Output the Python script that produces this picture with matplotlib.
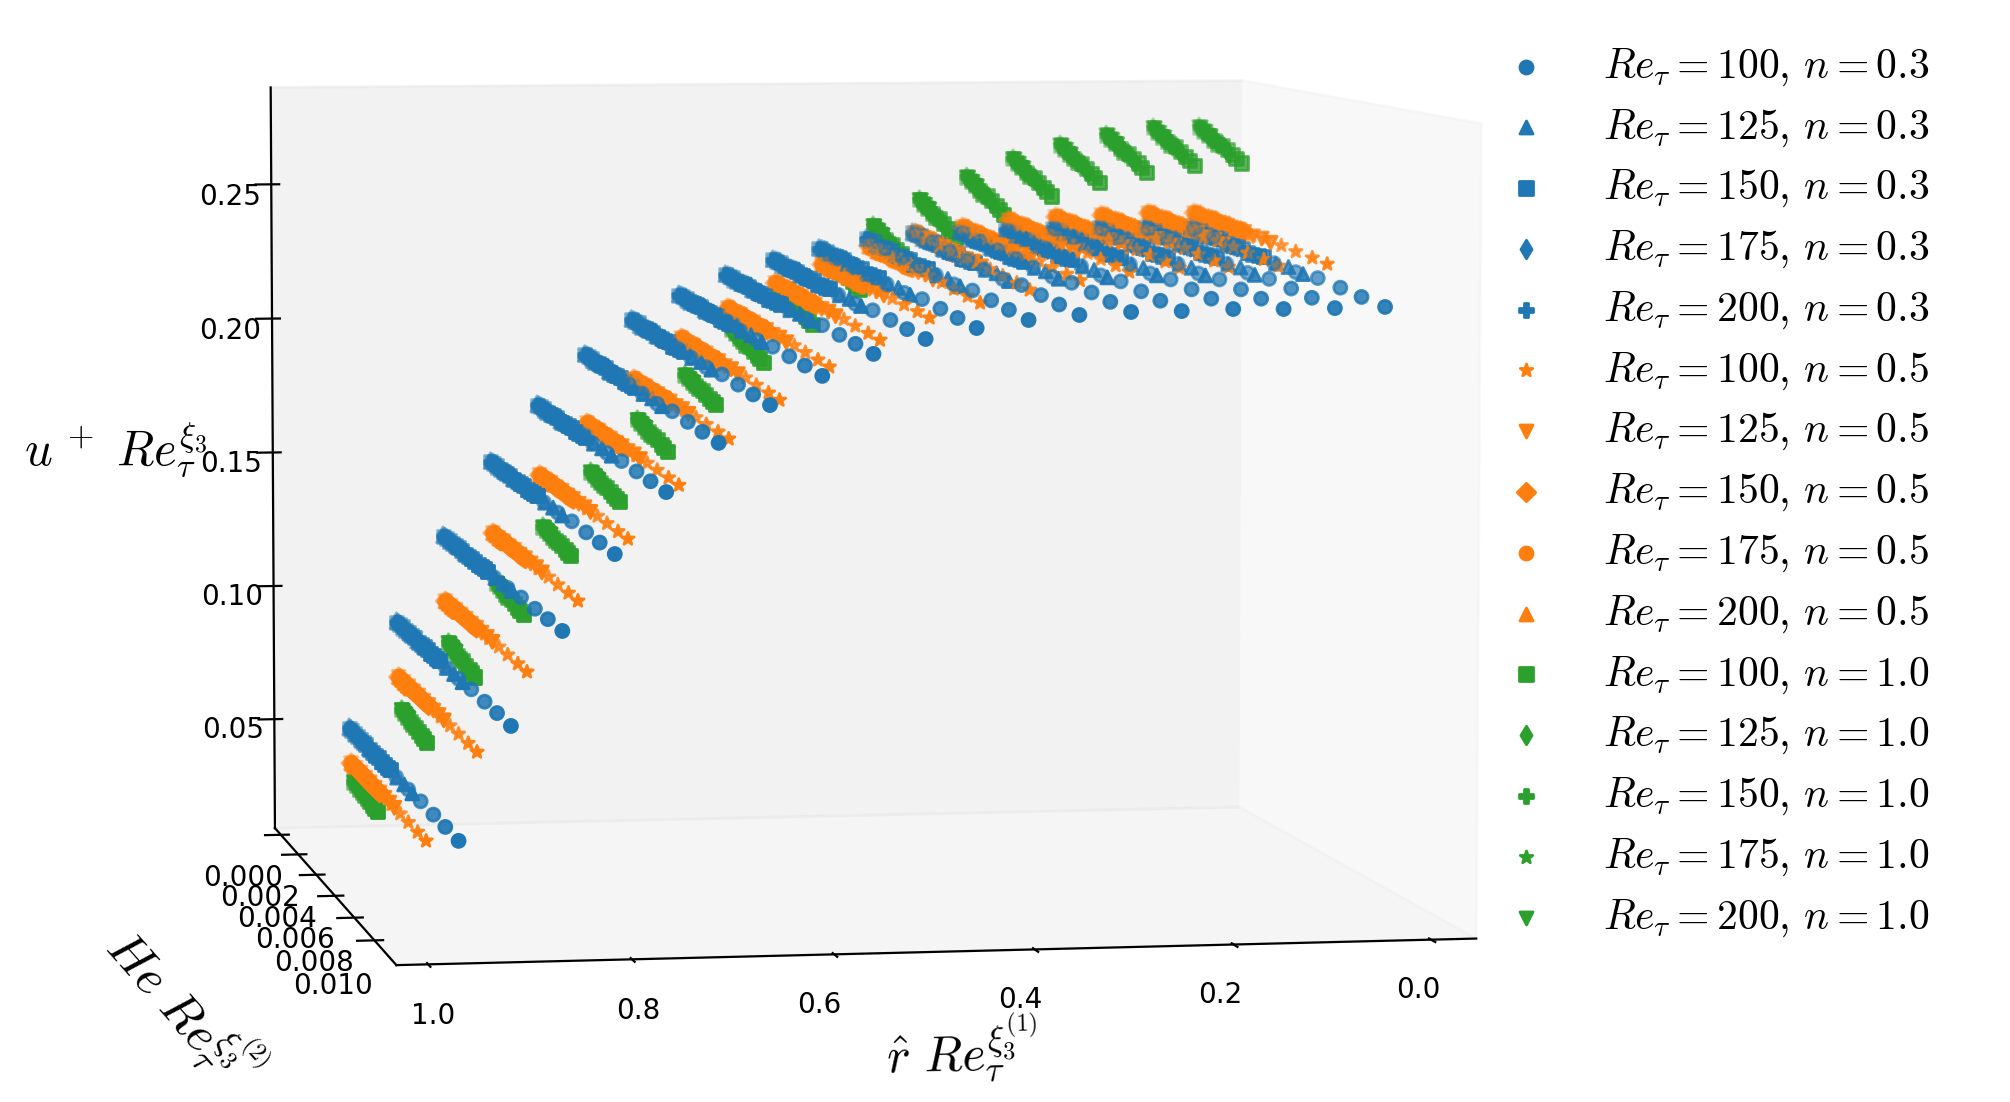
import numpy as np
import matplotlib
matplotlib.use("Agg")
import matplotlib.pyplot as plt

plt.rcParams['mathtext.fontset'] = 'cm'

r_vals = [0.961, 0.909, 0.858, 0.806, 0.755, 0.703, 0.652, 0.600, 0.549, 0.497,
          0.446, 0.394, 0.343, 0.291, 0.240, 0.188, 0.137, 0.085, 0.034]

# He values at which the u+ tables below were read, one list per n
he_stations = {0.3: [.0005, .00185, .0032, .00455, .0059, .00725, .0086, .00995, .0113],
               0.5: [.0007, .00165, .0026, .00355, .0045, .00545, .0064, .00735, .0083],
               1.0: [.0010, .0013, .0016, .0019, .00225, .00255, .0029, .0032, .0035]}

# one row per r value, one column per He station
u_n03 = [[.0501, .0498, .0494, .0491, .0487, .0483, .0479, .0476, .0472],
         [.0892, .0888, .0883, .0879, .0874, .0870, .0865, .0861, .0856],
         [.1209, .1205, .1200, .1196, .1191, .1187, .1182, .1178, .1173],
         [.1482, .1476, .1469, .1463, .1456, .1449, .1442, .1436, .1429],
         [.1691, .1684, .1677, .1670, .1663, .1656, .1649, .1642, .1635],
         [.1875, .1866, .1856, .1847, .1837, .1827, .1817, .1808, .1798],
         [.2003, .1993, .1983, .1973, .1963, .1953, .1943, .1933, .1923],
         [.2093, .2084, .2075, .2066, .2056, .2047, .2038, .2029, .2019],
         [.2166, .2157, .2147, .2138, .2129, .2120, .2110, .2101, .2091],
         [.2220, .2210, .2200, .2190, .2180, .2170, .2159, .2149, .2139],
         [.2260, .2250, .2239, .2228, .2217, .2207, .2196, .2185, .2174],
         [.2295, .2283, .2271, .2259, .2247, .2235, .2223, .2211, .2199],
         [.2315, .2303, .2290, .2278, .2265, .2252, .2239, .2227, .2214],
         [.2317, .2305, .2293, .2282, .2270, .2258, .2246, .2234, .2222],
         [.2323, .2311, .2298, .2286, .2273, .2261, .2248, .2236, .2223],
         [.2328, .2316, .2303, .2291, .2278, .2266, .2253, .2241, .2228],
         [.2327, .2315, .2302, .2290, .2277, .2264, .2251, .2239, .2226],
         [.2325, .2313, .2301, .2289, .2276, .2264, .2252, .2240, .2227],
         [.2323, .2312, .2300, .2288, .2276, .2265, .2253, .2241, .2229]]
u_n05 = [[.0377, .0376, .0374, .0372, .0370, .0369, .0367, .0365, .0363],
         [.0694, .0691, .0688, .0685, .0681, .0678, .0675, .0672, .0668],
         [.0973, .0970, .0966, .0962, .0958, .0955, .0951, .0947, .0943],
         [.1223, .1219, .1214, .1210, .1205, .1200, .1195, .1191, .1186],
         [.1436, .1432, .1427, .1422, .1417, .1413, .1408, .1403, .1398],
         [.1626, .1621, .1615, .1610, .1604, .1599, .1593, .1588, .1582],
         [.1787, .1781, .1775, .1770, .1764, .1758, .1752, .1746, .1740],
         [.1937, .1929, .1921, .1913, .1905, .1897, .1888, .1880, .1872],
         [.2047, .2040, .2032, .2024, .2016, .2009, .2001, .1993, .1985],
         [.2138, .2131, .2123, .2115, .2107, .2100, .2092, .2084, .2076],
         [.2205, .2199, .2192, .2185, .2178, .2172, .2165, .2158, .2151],
         [.2270, .2262, .2253, .2245, .2236, .2227, .2218, .2210, .2201],
         [.2318, .2309, .2300, .2291, .2281, .2272, .2263, .2254, .2244],
         [.2339, .2331, .2323, .2315, .2307, .2299, .2291, .2283, .2275],
         [.2363, .2356, .2348, .2341, .2333, .2326, .2318, .2311, .2303],
         [.2373, .2366, .2359, .2352, .2344, .2337, .2330, .2323, .2315],
         [.2378, .2371, .2363, .2355, .2347, .2340, .2332, .2324, .2316],
         [.2384, .2376, .2368, .2360, .2351, .2343, .2335, .2327, .2318],
         [.2383, .2376, .2368, .2361, .2353, .2346, .2338, .2331, .2323]]
u_n10 = [[.0317, .0314, .0311, .0309, .0306, .0303, .0300, .0297, .0294],
         [.0581, .0576, .0571, .0566, .0561, .0556, .0551, .0546, .0541],
         [.0826, .0820, .0814, .0808, .0802, .0796, .0789, .0783, .0777],
         [.1045, .1040, .1034, .1029, .1024, .1019, .1013, .1008, .1002],
         [.1250, .1245, .1240, .1235, .1230, .1225, .1220, .1215, .1210],
         [.1451, .1445, .1439, .1433, .1427, .1421, .1415, .1409, .1403],
         [.1642, .1635, .1628, .1621, .1614, .1607, .1599, .1592, .1585],
         [.1806, .1799, .1792, .1785, .1778, .1771, .1764, .1757, .1750],
         [.1971, .1962, .1953, .1945, .1936, .1927, .1918, .1909, .1900],
         [.2117, .2107, .2097, .2087, .2077, .2067, .2056, .2046, .2036],
         [.2240, .2230, .2220, .2211, .2201, .2191, .2181, .2171, .2161],
         [.2351, .2340, .2328, .2316, .2304, .2293, .2281, .2269, .2257],
         [.2446, .2434, .2422, .2410, .2398, .2386, .2373, .2361, .2349],
         [.2529, .2517, .2505, .2493, .2480, .2468, .2456, .2444, .2431],
         [.2595, .2583, .2570, .2558, .2545, .2533, .2520, .2508, .2495],
         [.2645, .2633, .2620, .2608, .2595, .2582, .2569, .2557, .2544],
         [.2681, .2669, .2656, .2643, .2630, .2618, .2605, .2592, .2579],
         [.2706, .2693, .2680, .2668, .2655, .2642, .2629, .2616, .2603],
         [.2708, .2696, .2683, .2671, .2659, .2647, .2634, .2622, .2609]]
u_tables = {0.3: u_n03, 0.5: u_n05, 1.0: u_n10}

re_vals = [100, 125, 150, 175, 200]

he_n03 = {100: [.0007, .0019, .0031, .0043, .0054, .0066, .0078, .0090, .0101, .0113],
          125: [.0005, .0012, .0019, .0026, .0033, .0040, .0048, .0055, .0062, .0070],
          150: [.0005, .0008, .0011, .0014, .0017, .0020, .0023, .0027, .0030, .0033, .0036, .0039, .0042, .0045, .0048],
          175: [.0005, .0007, .0009, .0011, .0013, .0015, .0017, .0019, .0021, .0023, .0025, .0027, .0029, .0031, .0033],
          200: [.0005, .0006, .0008, .0009, .0011, .0012, .0014, .0015, .0016, .0018, .0019, .0021, .0022, .0024, .0025]}
he_n05 = {100: [.0007, .0015, .0024, .0032, .0041, .0049, .0058, .0066, .0075, .0083],
          125: [.0007, .0012, .0017, .0022, .0027, .0032, .0037, .0042, .0047, .0052],
          150: [.0007, .0009, .0011, .0013, .0016, .0018, .0020, .0022, .0024, .0026, .0028, .0031, .0033, .0035, .0037],
          175: [.0007, .0008, .0010, .0011, .0013, .0014, .0016, .0017, .0018, .0020, .0021, .0023, .0024, .0026, .0027],
          200: [.0007, .0008, .0010, .0011, .0013, .0014, .0016, .0017, .0019, .0020]}
he_n10 = {100: [.0010, .0013, .0016, .0019, .0021, .0024, .0027, .0030, .0032, .0035],
          125: [.0010, .0012, .0014, .0016, .0018, .0020, .0022, .0024, .0026, .0028],
          150: [.0010, .0011, .0013, .0014, .0016, .0017, .0019, .0020, .0022, .0023],
          175: [.0010, .0011, .0012, .0013, .0014, .0015, .0016, .0017, .0018, .0020],
          200: [.0010, .0011, .0011, .0012, .0013, .0014, .0015, .0015, .0016, .0017]}
he_tables = {0.3: he_n03, 0.5: he_n05, 1.0: he_n10}

n_vals = [0.3, 0.5, 1.0]
colors = {0.3: 'C0', 0.5: 'C1', 1.0: 'C2'}
markers = {0.3: ['o', '^', 's', 'd', 'P'],
           0.5: ['*', 'v', 'D', 'o', '^'],
           1.0: ['s', 'd', 'P', '*', 'v']}

W, H = 2010, 1102
fig = plt.figure(figsize=(W / 200, H / 200), dpi=200)
side = 1614
cx, cy = 825, 1102 - 516
ax = fig.add_axes([(cx - side / 2) / W, (cy - side / 2) / H, side / W, side / H], projection='3d')

for n in n_vals:
    stations = np.array(he_stations[n])
    for i, re in enumerate(re_vals):
        xs, ys, zs = [], [], []
        for row, r in zip(u_tables[n], r_vals):
            for he in he_tables[n][re]:
                xs.append(r)
                ys.append(he)
                zs.append(row[np.abs(stations - he).argmin()])
        ax.scatter(xs, ys, zs, c=colors[n], marker=markers[n][i], s=22,
                   label=rf'$Re_\tau = {re},\, n = {n}$')

ax.view_init(elev=5.0, azim=80)
ax.set_xlim(-0.046, 1.031)
ax.set_ylim(-0.0007, 0.0121)
ax.set_zlim(0.009, 0.286)
ax.set_xticks([0.0, 0.2, 0.4, 0.6, 0.8, 1.0])
ax.set_yticks([0.000, 0.002, 0.004, 0.006, 0.008, 0.010])
ax.set_zticks([0.05, 0.10, 0.15, 0.20, 0.25])
ax.grid(False)

# x labels sit left of their ticks towards the right end of the axis
for tick, ha in zip(ax.xaxis.get_major_ticks(), ['right', 'right', 'right', 'right', 'center', 'center']):
    tick.label1.set_ha(ha)

ax.set_xlabel(r'$\hat{r}\ Re_\tau^{\xi_3^{(1)}}$', fontsize=18, labelpad=9)
ax.set_ylabel(r'$He\ Re_\tau^{\xi_3^{(2)}}$', fontsize=18, labelpad=22)
ax.zaxis.set_rotate_label(False)
ax.set_zlabel(r'$u\,^+\ Re_\tau^{\xi_3}$', fontsize=17.5, rotation=0, labelpad=23)

fig.legend(loc='upper left', bbox_to_anchor=(1447 / W, 1 - 7 / H), frameon=False,
           fontsize=15, labelspacing=0.42, handletextpad=0.85)

fig.savefig('out.png', dpi=200)
